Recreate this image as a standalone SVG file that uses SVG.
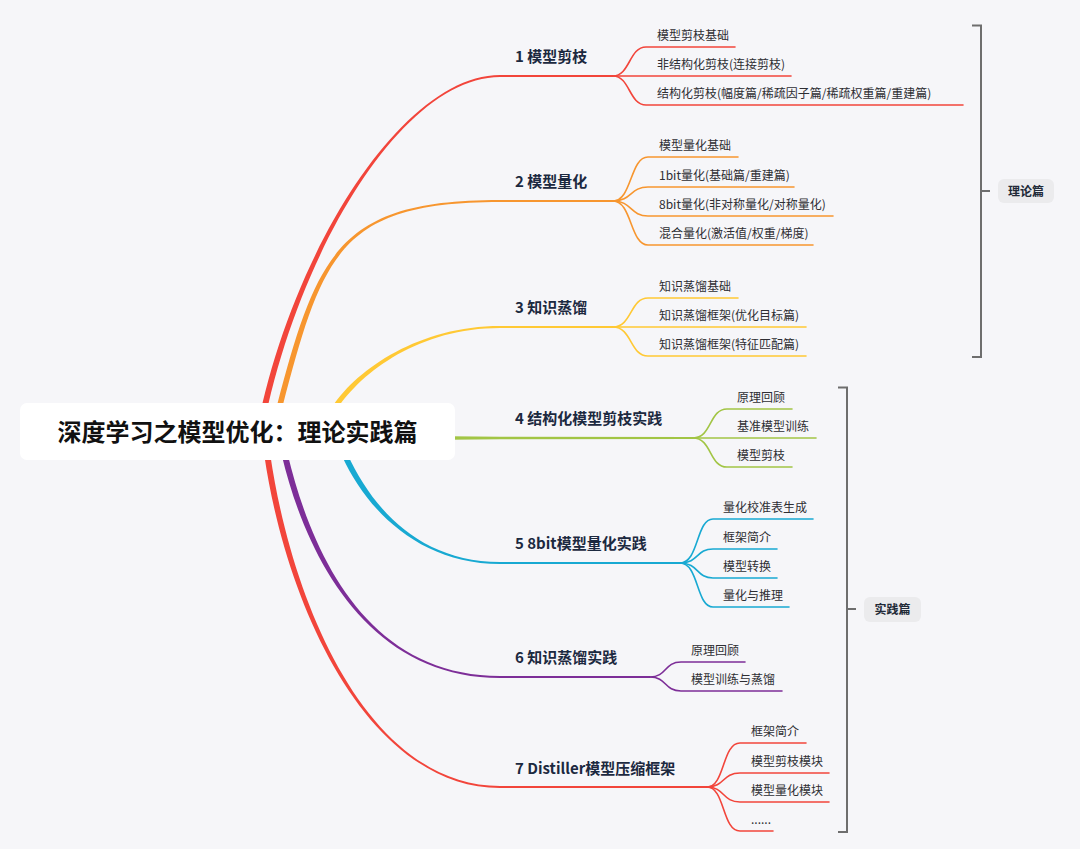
<svg xmlns="http://www.w3.org/2000/svg" width="1080" height="849" viewBox="0 0 1080 849">
<style>
.main{font-family:"Noto Sans CJK SC","Noto Sans",sans-serif;font-size:15px;font-weight:700;fill:#1c2940}
.sub{font-family:"Noto Sans CJK SC","Noto Sans",sans-serif;font-size:12px;fill:#2e2e33}
.tag{font-family:"Noto Sans CJK SC","Noto Sans",sans-serif;font-size:12px;font-weight:700;fill:#222a38;text-anchor:middle}
.root{font-family:"Noto Sans CJK SC","Noto Sans",sans-serif;font-size:24px;font-weight:700;fill:#111;text-anchor:middle}
.s{fill:none;stroke-width:1.6;stroke-linecap:round}
.h{fill:none;stroke-width:2}
.br{fill:none;stroke:#6e6e6e;stroke-width:2}
.red{stroke:#f2453b}.ora{stroke:#f7962f}.yel{stroke:#ffc935}.grn{stroke:#a2c545}.cya{stroke:#18a9d2}.pur{stroke:#7d2e98}
</style>
<rect width="1080" height="849" fill="#f6f6f9"/>
<g id="connectors">
  <path fill="#f2453b" d="M 260.95 440.5 C 292.95 260.5, 400 77, 500 77 L 500 75 C 400 75, 287.05 259.5, 255.05 439.5 Z"/>
  <path fill="#f7962f" d="M 282.71 405.71 C 322.71 253.71, 340 202, 500 202 L 500 200 C 340 200, 317.29 252.29, 277.29 404.29 Z"/>
  <path fill="#ffc935" d="M 337.36 408.64 C 362.16 371.44, 420 328, 500 328 L 500 326 C 420 326, 357.84 368.56, 333.04 405.76 Z"/>
  <path fill="#a2c545" d="M 450 436.3 L 500 436.8 L 693 437 L 693 439 L 500 439.2 L 450 439.7 Z"/>
  <path fill="#18a9d2" d="M 347.45 454.33 C 372.55 508.83, 420 562, 500 562 L 500 564 C 420 564, 367.45 511.17, 342.35 456.67 Z"/>
  <path fill="#7d2e98" d="M 287.72 454.4 C 312.92 559.3, 370 676, 500 676 L 500 678 C 370 678, 307.08 560.7, 281.88 455.8 Z"/>
  <path fill="#f2453b" d="M 270.27 454.66 C 292.97 609.56, 370 786, 500 786 L 500 788 C 370 788, 287.03 610.44, 264.33 455.54 Z"/>
  <path class="h red" d="M 499 76 H 613"/>
  <path class="h ora" d="M 499 201 H 613"/>
  <path class="h yel" d="M 499 327 H 613"/>
  <path class="h cya" d="M 499 563 H 680"/>
  <path class="h pur" d="M 499 677 H 650"/>
  <path class="h red" d="M 499 787 H 707"/>
  <path class="s red" d="M 613 76 C 630 76, 629 47, 646 47 H 735"/>
  <path class="s red" d="M 613 76 H 791"/>
  <path class="s red" d="M 613 76 C 630 76, 629 105, 646 105 H 963"/>
  <path class="s ora" d="M 613 201 C 632 201, 630 157, 648 157 H 738"/>
  <path class="s ora" d="M 613 201 C 632 201, 630 187, 648 187 H 794"/>
  <path class="s ora" d="M 613 201 C 632 201, 630 216, 648 216 H 833"/>
  <path class="s ora" d="M 613 201 C 632 201, 630 245, 648 245 H 813"/>
  <path class="s yel" d="M 613 327 C 632 327, 630 298, 648 298 H 738"/>
  <path class="s yel" d="M 613 327 H 806"/>
  <path class="s yel" d="M 613 327 C 632 327, 630 356, 648 356 H 806"/>
  <path class="s grn" d="M 693 438 C 712 438, 709 409, 727 409 H 792"/>
  <path class="s grn" d="M 693 438 H 816"/>
  <path class="s grn" d="M 693 438 C 712 438, 709 467, 727 467 H 792"/>
  <path class="s cya" d="M 680 563 C 699 563, 696 519, 713 519 H 813"/>
  <path class="s cya" d="M 680 563 C 699 563, 696 549, 713 549 H 777"/>
  <path class="s cya" d="M 680 563 C 699 563, 696 578, 713 578 H 777"/>
  <path class="s cya" d="M 680 563 C 699 563, 696 607, 713 607 H 789"/>
  <path class="s pur" d="M 650 677 C 667 677, 664 662, 681 662 H 745"/>
  <path class="s pur" d="M 650 677 C 667 677, 664 691, 681 691 H 782"/>
  <path class="s red" d="M 707 787 C 725 787, 722 743, 740 743 H 806"/>
  <path class="s red" d="M 707 787 C 725 787, 722 773, 740 773 H 829"/>
  <path class="s red" d="M 707 787 C 725 787, 722 802, 740 802 H 829"/>
  <path class="s red" d="M 707 787 C 725 787, 722 831, 740 831 H 773"/>
  <path class="br" d="M 972 25.5 H 981 V 357 H 972"/>
  <path class="br" d="M 981 191 H 990"/>
  <path class="br" d="M 838 387.5 H 847 V 832 H 838"/>
  <path class="br" d="M 847 609 H 856"/>
</g>
<g id="root">
  <rect x="20" y="403" width="435" height="57" rx="7" fill="#ffffff"/>
  <text class="root" x="237.5" y="440.5">深度学习之模型优化：理论实践篇</text>
</g>
<g id="n1"><text class="main" x="515" y="62">1 模型剪枝</text></g>
<g id="n1a"><text class="sub" x="657" y="40">模型剪枝基础</text></g>
<g id="n1b"><text class="sub" x="657" y="69">非结构化剪枝(连接剪枝)</text></g>
<g id="n1c"><text class="sub" x="657" y="98">结构化剪枝(幅度篇/稀疏因子篇/稀疏权重篇/重建篇)</text></g>
<g id="n2"><text class="main" x="515" y="187">2 模型量化</text></g>
<g id="n2a"><text class="sub" x="659" y="150">模型量化基础</text></g>
<g id="n2b"><text class="sub" x="659" y="180">1bit量化(基础篇/重建篇)</text></g>
<g id="n2c"><text class="sub" x="659" y="209">8bit量化(非对称量化/对称量化)</text></g>
<g id="n2d"><text class="sub" x="659" y="238">混合量化(激活值/权重/梯度)</text></g>
<g id="n3"><text class="main" x="515" y="313">3 知识蒸馏</text></g>
<g id="n3a"><text class="sub" x="659" y="291">知识蒸馏基础</text></g>
<g id="n3b"><text class="sub" x="659" y="320">知识蒸馏框架(优化目标篇)</text></g>
<g id="n3c"><text class="sub" x="659" y="349">知识蒸馏框架(特征匹配篇)</text></g>
<g id="n4"><text class="main" x="515" y="424">4 结构化模型剪枝实践</text></g>
<g id="n4a"><text class="sub" x="737" y="402">原理回顾</text></g>
<g id="n4b"><text class="sub" x="737" y="431">基准模型训练</text></g>
<g id="n4c"><text class="sub" x="737" y="460">模型剪枝</text></g>
<g id="n5"><text class="main" x="515" y="549">5 8bit模型量化实践</text></g>
<g id="n5a"><text class="sub" x="723" y="512">量化校准表生成</text></g>
<g id="n5b"><text class="sub" x="723" y="542">框架简介</text></g>
<g id="n5c"><text class="sub" x="723" y="571">模型转换</text></g>
<g id="n5d"><text class="sub" x="723" y="600">量化与推理</text></g>
<g id="n6"><text class="main" x="515" y="663">6 知识蒸馏实践</text></g>
<g id="n6a"><text class="sub" x="691" y="655">原理回顾</text></g>
<g id="n6b"><text class="sub" x="691" y="684">模型训练与蒸馏</text></g>
<g id="n7"><text class="main" x="515" y="774">7 Distiller模型压缩框架</text></g>
<g id="n7a"><text class="sub" x="751" y="736">框架简介</text></g>
<g id="n7b"><text class="sub" x="751" y="766">模型剪枝模块</text></g>
<g id="n7c"><text class="sub" x="751" y="795">模型量化模块</text></g>
<g id="n7d"><text class="sub" x="751" y="824">......</text></g>
<g id="theory">
  <rect x="998" y="179" width="56" height="24" rx="6" fill="#ebebed"/>
  <text class="tag" x="1026" y="196">理论篇</text>
</g>
<g id="practice">
  <rect x="864" y="597" width="57" height="25" rx="6" fill="#ebebed"/>
  <text class="tag" x="892.5" y="614">实践篇</text>
</g>
</svg>
